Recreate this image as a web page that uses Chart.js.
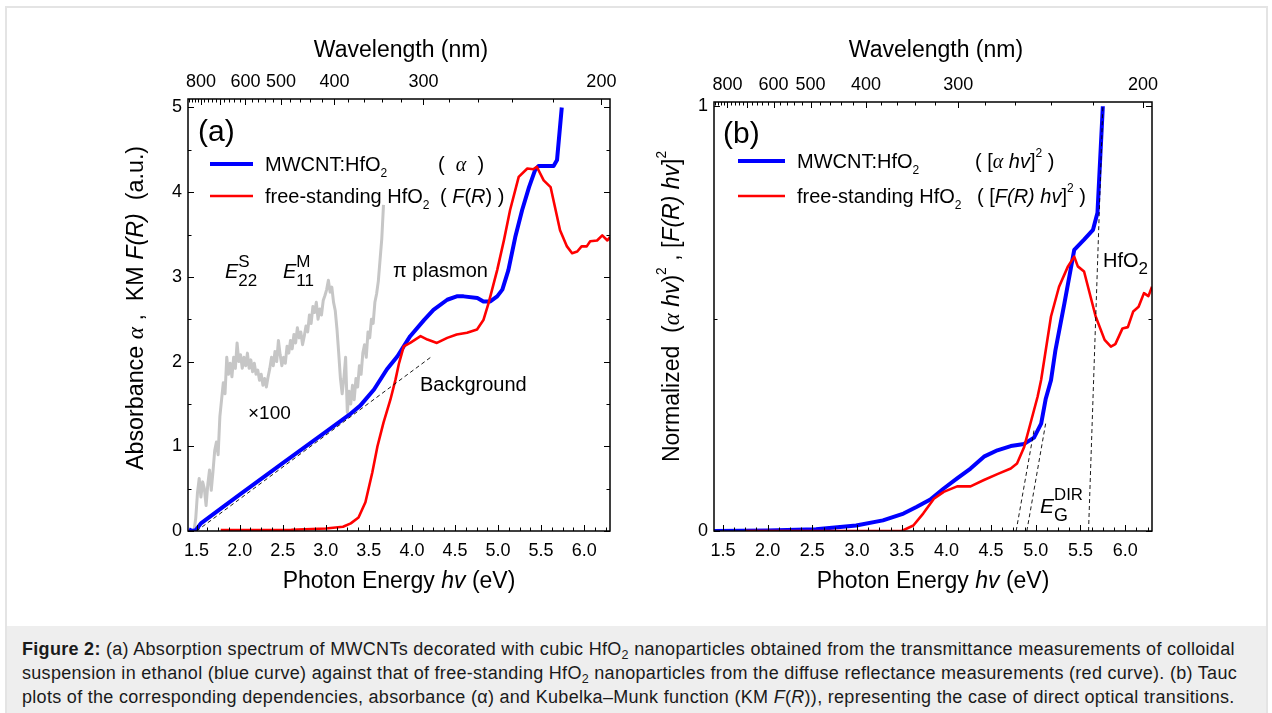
<!DOCTYPE html>
<html><head><meta charset="utf-8">
<script src="https://cdn.jsdelivr.net/npm/chart.js@4.4.1/dist/chart.umd.min.js"></script>
<style>
html,body{margin:0;padding:0;background:#fff;}
body{width:1272px;height:713px;overflow:hidden;position:relative;font-family:"Liberation Sans",Arial,sans-serif;}
#frame{position:absolute;left:5px;top:6px;width:1263px;height:760px;border:2px solid #e4e4e4;box-sizing:border-box;}
canvas{position:absolute;top:0;}
#ca{left:0;} #cb{left:640px;}
#cap{position:absolute;left:7px;top:626px;width:1259px;height:120px;background:#eeeeee;padding:11px 0 0 15px;box-sizing:border-box;font-size:18px;letter-spacing:0.3px;line-height:24px;color:#1a1a1a;white-space:nowrap;}
#cap sub{font-size:12.5px;vertical-align:-4px;line-height:0;}
</style></head><body>
<div id="frame"></div>
<canvas id="ca" width="640" height="615"></canvas>
<canvas id="cb" width="632" height="615"></canvas>
<div id="cap"><b>Figure 2:</b> (a) Absorption spectrum of MWCNTs decorated with cubic HfO<sub>2</sub> nanoparticles obtained from the transmittance measurements of colloidal<br>suspension in ethanol (blue curve) against that of free-standing HfO<sub>2</sub> nanoparticles from the diffuse reflectance measurements (red curve). (b) Tauc<br>plots of the corresponding dependencies, absorbance (α) and Kubelka–Munk function (KM <i>F</i>(<i>R</i>)), representing the case of direct optical transitions.</div>
<script>
const FONT='"Liberation Sans", Arial, sans-serif';
const SERIF='"Liberation Serif", "DejaVu Serif", serif';
const BLUE='#0000ff', RED='#ff0000', GRAY='#c6c6c6';

// ---------- Panel (a) data ----------
const absBlueE=[1.41,1.45,1.49,1.55,1.8,2.0,2.5,3.0,3.27,3.4,3.56,3.71,3.83,3.98,4.14,4.25,4.41,4.52,4.60,4.76,4.83,4.91,4.99,5.05,5.12,5.20,5.28,5.36,5.43,5.47,5.645,5.685,5.74];
const absBlueA=[0.02,0.0,0.01,0.09,0.28,0.43,0.80,1.17,1.37,1.48,1.67,1.91,2.06,2.30,2.49,2.61,2.73,2.77,2.77,2.75,2.71,2.71,2.77,2.85,3.08,3.47,3.79,4.06,4.26,4.31,4.31,4.38,5.0];
const absRedE=[1.78,2.2,2.6,3.0,3.2,3.29,3.38,3.46,3.54,3.60,3.67,3.75,3.81,3.85,3.905,3.98,4.10,4.18,4.29,4.41,4.52,4.64,4.756,4.83,4.89,4.99,5.07,5.14,5.24,5.34,5.41,5.45,5.53,5.61,5.72,5.80,5.86,5.92,5.97,6.03,6.07,6.15,6.21,6.27,6.30];
const absRedA=[0.01,0.01,0.015,0.03,0.05,0.09,0.16,0.34,0.69,1.0,1.28,1.55,1.79,1.98,2.18,2.22,2.30,2.26,2.22,2.28,2.32,2.34,2.38,2.49,2.69,3.08,3.44,3.79,4.18,4.28,4.27,4.30,4.14,4.06,3.55,3.36,3.28,3.30,3.36,3.36,3.42,3.43,3.49,3.43,3.47];
const absGrayE=[1.47,1.49,1.51,1.53,1.55,1.57,1.59,1.61,1.63,1.65,1.67,1.69,1.71,1.73,1.75,1.77,1.79,1.81,1.83,1.85,1.87,1.89,1.91,1.93,1.95,1.97,1.99,2.01,2.03,2.05,2.07,2.09,2.11,2.13,2.15,2.17,2.19,2.21,2.23,2.25,2.27,2.29,2.31,2.33,2.35,2.37,2.39,2.41,2.43,2.45,2.47,2.49,2.51,2.53,2.55,2.57,2.59,2.61,2.63,2.65,2.67,2.69,2.71,2.73,2.75,2.77,2.79,2.81,2.83,2.85,2.87,2.89,2.91,2.93,2.95,2.97,2.99,3.01,3.03,3.05,3.07,3.09,3.11,3.13,3.15,3.17,3.19,3.21,3.23,3.25,3.27,3.29,3.31,3.33,3.35,3.37,3.39,3.41,3.43,3.45,3.47,3.49,3.51,3.53,3.55,3.57,3.59,3.61,3.63,3.65,3.67];
const absGrayA=[0.00,0.15,0.45,0.62,0.40,0.58,0.50,0.30,0.55,0.72,0.48,0.70,0.95,1.05,0.90,1.35,1.55,1.75,1.62,2.05,1.85,1.98,1.82,2.05,1.92,2.22,2.00,2.08,1.92,2.05,1.95,2.10,1.92,2.02,1.88,1.98,1.85,1.90,1.78,1.85,1.72,1.80,1.70,1.82,1.92,2.05,1.95,2.12,2.00,2.25,2.08,1.95,2.05,1.98,2.18,2.10,2.25,2.15,2.32,2.22,2.40,2.28,2.35,2.20,2.30,2.42,2.35,2.55,2.45,2.65,2.58,2.70,2.50,2.62,2.55,2.72,2.78,2.85,2.96,2.82,2.88,2.70,2.60,2.38,2.10,1.80,1.62,1.80,2.05,1.40,1.65,1.50,1.72,1.55,1.80,1.70,1.95,1.85,2.10,2.20,2.05,2.35,2.28,2.50,2.45,2.70,2.80,2.95,3.20,3.45,3.85];
const absBackgroundE=[1.50,4.23];
const absBackgroundA=[0.0,2.06];

// ---------- Panel (b) data ----------
const taucBlueE=[1.39,2.0,2.54,2.99,3.29,3.52,3.67,3.82,3.97,4.12,4.27,4.42,4.57,4.72,4.87,4.98,5.06,5.11,5.17,5.22,5.32,5.43,5.54,5.64,5.69,5.75];
const taucBlueY=[0,0.001,0.004,0.013,0.025,0.041,0.057,0.074,0.10,0.124,0.147,0.175,0.19,0.20,0.205,0.22,0.253,0.31,0.355,0.426,0.536,0.662,0.686,0.709,0.749,1.0];
const taucRedE=[1.755,2.5,3.0,3.5,3.63,3.74,3.86,3.97,4.12,4.27,4.42,4.57,4.72,4.79,4.87,4.94,5.02,5.06,5.17,5.26,5.36,5.43,5.47,5.54,5.67,5.77,5.84,5.89,5.97,6.03,6.09,6.15,6.21,6.26,6.30];
const taucRedY=[0,0,0,0,0.013,0.041,0.076,0.092,0.105,0.105,0.12,0.134,0.147,0.159,0.198,0.253,0.316,0.356,0.505,0.575,0.623,0.646,0.623,0.611,0.505,0.45,0.434,0.44,0.477,0.48,0.517,0.528,0.56,0.553,0.575];
const tangent1E=[4.78,4.98], tangent1Y=[0,0.237];
const tangent2E=[4.90,5.11], tangent2Y=[0,0.253];
const tangent3E=[5.59,5.75], tangent3Y=[0,1.0];

// ---------- ticks ----------
const energyTicks=[1.5,2.0,2.5,3.0,3.5,4.0,4.5,5.0,5.5,6.0];
const energyMinorStep=0.125;
const wavelengthTicks=[880,860,840,820,800,780,760,740,720,700,680,660,640,620,600,580,560,540,520,500,480,460,440,420,400,380,360,340,320,300,280,260,240,220,200];
const wavelengthLabels=[800,600,500,400,300,200];
const absTicks=[0,1,2,3,4,5], absMinor=[0.5,1.5,2.5,3.5,4.5];
const normTicks=[0,1], normMinor=[0.5];

function pts(xs,ys){return xs.map((x,i)=>({x:x,y:ys[i]}));}
const S=(t,o)=>Object.assign({t:t},o||{});

function rich(ctx,x,y,size,parts,align,rot){
  const items=parts.map(p=>{
    const s=size*(p.sc||1);
    const fam=p.g?SERIF:FONT;
    const st=(p.i||p.g)?'italic ':'';
    const font=st+s+'px '+fam;
    ctx.font=font;
    return Object.assign({},p,{font:font,w:ctx.measureText(p.t).width,dyp:(p.dy||0)*size});
  });
  let cx=0,lastStart=0,lastW=0;
  items.forEach(it=>{
    if(it.stack){it.x=lastStart;cx=lastStart+Math.max(lastW,it.w);}
    else{it.x=cx;lastStart=cx;lastW=it.w;cx+=it.w;}
  });
  const total=cx;
  ctx.save();
  ctx.translate(x,y);
  if(rot)ctx.rotate(rot);
  const off=align==='center'?-total/2:0;
  ctx.textBaseline='alphabetic';ctx.textAlign='left';
  items.forEach(it=>{ctx.font=it.font;ctx.fillText(it.t,off+it.x,it.dyp);});
  ctx.restore();
}
function seg(ctx,x1,x2,y,color,w){ctx.save();ctx.strokeStyle=color;ctx.lineWidth=w;ctx.beginPath();ctx.moveTo(x1,y);ctx.lineTo(x2,y);ctx.stroke();ctx.restore();}

function framePlugin(spec){
  return {id:'frame',afterDraw(chart){
    const ctx=chart.ctx,a=chart.chartArea,sx=chart.scales.x,sx2=chart.scales.x2,sy=chart.scales.y;
    ctx.save();
    ctx.strokeStyle='#000';ctx.lineWidth=1;ctx.beginPath();
    const MAJ=6,MIN=3.5;
    const vx=(p,y0,len)=>{const q=Math.round(p)+0.5;ctx.moveTo(q,y0);ctx.lineTo(q,y0+len);};
    const hy=(p,x0,len)=>{const q=Math.round(p)+0.5;ctx.moveTo(x0,q);ctx.lineTo(x0+len,q);};
    energyTicks.forEach(v=>vx(sx.getPixelForValue(v),a.bottom,-MAJ));
    for(let v=energyTicks[0];v<sx.max;v+=energyMinorStep){
      if(energyTicks.some(t=>Math.abs(t-v)<1e-6))continue;
      vx(sx.getPixelForValue(v),a.bottom,-MIN);
    }
    wavelengthTicks.forEach(w=>vx(sx2.getPixelForValue(1240/w),a.top,w%100===0?MAJ:MIN));
    spec.yTicks.forEach(v=>{const p=sy.getPixelForValue(v);hy(p,a.left,MAJ);hy(p,a.right,-MAJ);});
    spec.yMinor.forEach(v=>{const p=sy.getPixelForValue(v);hy(p,a.left,MIN);hy(p,a.right,-MIN);});
    ctx.stroke();
    ctx.lineWidth=1.5;
    ctx.strokeRect(a.left,a.top,a.right-a.left,a.bottom-a.top);
    ctx.fillStyle='#000';
    spec.text(ctx,a);
    ctx.restore();
  }};
}

function makeChart(id,spec){
  const H=615;
  const tickFont={family:FONT,size:18};
  return new Chart(document.getElementById(id),{
    type:'line',
    data:{datasets:spec.datasets},
    options:{
      responsive:false,animation:false,devicePixelRatio:1,events:[],
      layout:{padding:{left:0,right:spec.padRight,top:0,bottom:0}},
      plugins:{legend:{display:false},tooltip:{enabled:false}},
      elements:{point:{radius:0},line:{tension:0,borderJoinStyle:'round',borderCapStyle:'butt'}},
      scales:{
        x:{type:'linear',position:'bottom',min:1.4,max:6.3,
          afterBuildTicks:s=>{s.ticks=energyTicks.map(v=>({value:v}));},
          afterFit:s=>{s.height=H-spec.bottom;},
          grid:{display:false,drawTicks:false},border:{display:false},
          ticks:{autoSkip:false,maxRotation:0,minRotation:0,padding:9,color:'#000',font:tickFont,callback:v=>Number(v).toFixed(1)}},
        x2:{type:'linear',position:'top',min:1.4,max:6.3,
          afterBuildTicks:s=>{s.ticks=wavelengthTicks.map(w=>({value:1240/w}));},
          afterFit:s=>{s.height=spec.top;},
          grid:{display:false,drawTicks:false},border:{display:false},
          ticks:{autoSkip:false,maxRotation:0,minRotation:0,padding:6,color:'#000',font:tickFont,
            callback:(v,i)=>wavelengthLabels.includes(wavelengthTicks[i])?String(wavelengthTicks[i]):''}},
        y:{type:'linear',position:'left',min:0,max:spec.ymax,
          afterBuildTicks:s=>{s.ticks=spec.yTicks.map(v=>({value:v}));},
          afterFit:s=>{s.width=spec.left;},
          grid:{display:false,drawTicks:false},border:{display:false},
          ticks:{autoSkip:false,padding:6,color:'#000',font:tickFont,callback:v=>String(v)}}
      }
    },
    plugins:[framePlugin(spec)]
  });
}
const SUP2={sc:0.6,dy:-0.55};
const SUB2={sc:0.6,dy:0.32};

// ---------- Chart (a) ----------
makeChart('ca',{
  left:188,padRight:30,top:99,bottom:531,ymax:5.1,yTicks:absTicks,yMinor:absMinor,
  datasets:[
    {data:pts(absBackgroundE,absBackgroundA),xAxisID:'x',yAxisID:'y',borderColor:'#000',borderWidth:0.9,borderDash:[4,3],order:0},
    {data:pts(absRedE,absRedA),xAxisID:'x',yAxisID:'y',borderColor:RED,borderWidth:2.6,order:1},
    {data:pts(absBlueE,absBlueA),xAxisID:'x',yAxisID:'y',borderColor:BLUE,borderWidth:4,order:2},
    {data:pts(absGrayE,absGrayA),xAxisID:'x',yAxisID:'y',borderColor:GRAY,borderWidth:3,order:3}
  ],
  text:(ctx,a)=>{
    const L=a.left,T=a.top,mid=(a.left+a.right)/2;
    rich(ctx,mid+2,T-42,23,[S('Wavelength (nm)')],'center');
    rich(ctx,mid,a.bottom+57,23,[S('Photon Energy '),S('hv',{i:1}),S(' (eV)')],'center');
    rich(ctx,L-45,(a.top+a.bottom)/2-7,23.3,[S('Absorbance '),S('α',{g:1}),S(' ,  KM '),S('F(R)',{i:1}),S('  (a.u.)')],'center',-Math.PI/2);
    rich(ctx,L+10,T+42,30,[S('(a)')]);
    seg(ctx,L+22,L+65,T+65,BLUE,4);
    rich(ctx,L+77,T+72,20,[S('MWCNT:HfO'),S('2',SUB2)]);
    rich(ctx,L+250,T+72,20,[S('(  '),S('α',{g:1}),S('  )')]);
    seg(ctx,L+22,L+65,T+97,RED,2.6);
    rich(ctx,L+77,T+104,20,[S('free-standing HfO'),S('2',SUB2)]);
    rich(ctx,L+252,T+104,20,[S('( '),S('F',{i:1}),S('('),S('R',{i:1}),S(') )')]);
    rich(ctx,L+37,T+179,20,[S('E',{i:1}),S('S',{sc:0.85,dy:-0.55}),S('22',{sc:0.85,dy:0.4,stack:1})]);
    rich(ctx,L+95,T+179,20,[S('E',{i:1}),S('M',{sc:0.85,dy:-0.55}),S('11',{sc:0.85,dy:0.4,stack:1})]);
    rich(ctx,L+205,T+178,20,[S('π'),S(' plasmon')]);
    rich(ctx,L+232,T+292,20,[S('Background')]);
    rich(ctx,L+60,T+320,19,[S('×100')]);
  }
});

// ---------- Chart (b) ----------
makeChart('cb',{
  left:74,padRight:120,top:102,bottom:531,ymax:1.01,yTicks:normTicks,yMinor:normMinor,
  datasets:[
    {data:pts(tangent1E,tangent1Y),xAxisID:'x',yAxisID:'y',borderColor:'#000',borderWidth:0.9,borderDash:[4,3],order:0},
    {data:pts(tangent2E,tangent2Y),xAxisID:'x',yAxisID:'y',borderColor:'#000',borderWidth:0.9,borderDash:[4,3],order:0},
    {data:pts(tangent3E,tangent3Y),xAxisID:'x',yAxisID:'y',borderColor:'#000',borderWidth:0.9,borderDash:[4,3],order:0},
    {data:pts(taucRedE,taucRedY),xAxisID:'x',yAxisID:'y',borderColor:RED,borderWidth:2.6,order:1},
    {data:pts(taucBlueE,taucBlueY),xAxisID:'x',yAxisID:'y',borderColor:BLUE,borderWidth:4,order:2}
  ],
  text:(ctx,a)=>{
    const L=a.left,T=a.top,mid=(a.left+a.right)/2;
    rich(ctx,mid+3,T-45,23,[S('Wavelength (nm)')],'center');
    rich(ctx,mid,a.bottom+57,23,[S('Photon Energy '),S('hv',{i:1}),S(' (eV)')],'center');
    rich(ctx,L-35,(a.top+a.bottom)/2-10,23,[S('Normalized  ('),S('α',{g:1}),S(' '),S('hv',{i:1}),S(')'),S('2',SUP2),S(' , ['),S('F(R) hv',{i:1}),S(']'),S('2',SUP2)],'center',-Math.PI/2);
    rich(ctx,L+9,T+41,30,[S('(b)')]);
    seg(ctx,L+24,L+71,T+59,BLUE,4);
    rich(ctx,L+83,T+66,20,[S('MWCNT:HfO'),S('2',SUB2)]);
    rich(ctx,L+261,T+66,20,[S('( ['),S('α',{g:1}),S(' '),S('hv',{i:1}),S(']'),S('2',SUP2),S(' )')]);
    seg(ctx,L+24,L+71,T+94,RED,2.6);
    rich(ctx,L+83,T+101,20,[S('free-standing HfO'),S('2',SUB2)]);
    rich(ctx,L+263,T+101,20,[S('( ['),S('F(R) hv',{i:1}),S(']'),S('2',SUP2),S(' )')]);
    rich(ctx,L+389,T+165,20,[S('HfO'),S('2',{sc:0.85,dy:0.35})]);
    rich(ctx,L+326,T+411,21,[S('E',{i:1}),S('DIR',{sc:0.8,dy:-0.6}),S('G',{sc:0.85,dy:0.4,stack:1})]);
  }
});
</script>
</body></html>
